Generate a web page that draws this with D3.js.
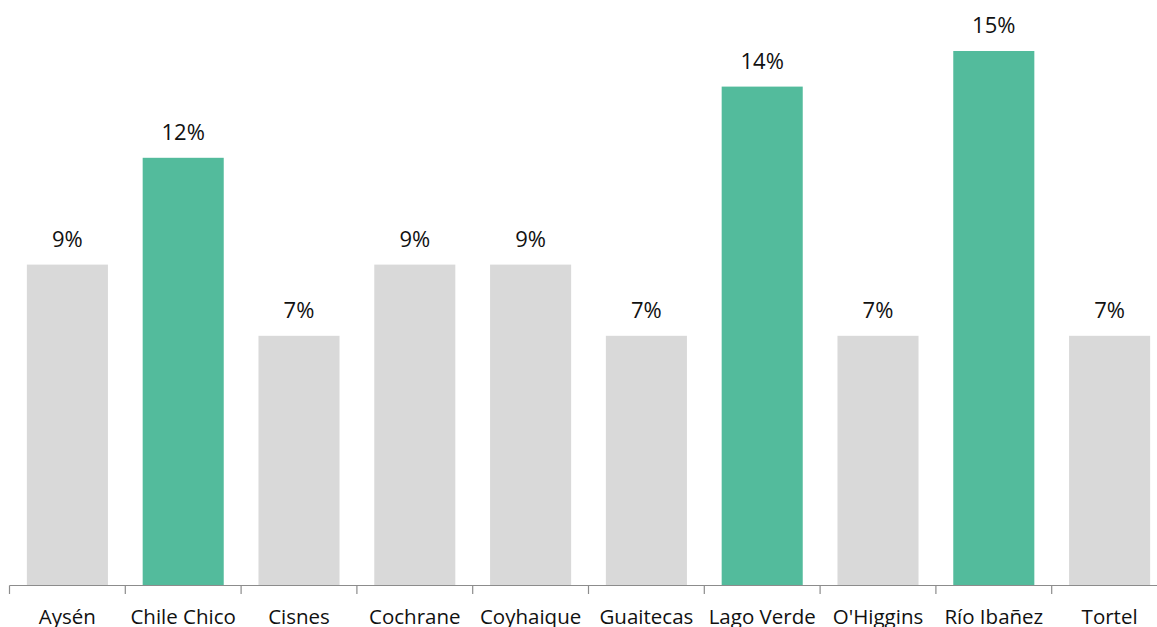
<!DOCTYPE html>
<html>
<head>
<meta charset="utf-8">
<script src="https://cdn.jsdelivr.net/npm/d3@7"></script>
<style>
  html, body { margin: 0; padding: 0; background: #fff; overflow: hidden; }
  svg { display: block; }
</style>
</head>
<body>
<svg id="chart" width="1157" height="627"></svg>
<script>
const categories = ["Aysén", "Chile Chico", "Cisnes", "Cochrane", "Coyhaique", "Guaitecas", "Lago Verde", "O'Higgins", "Río Ibañez", "Tortel"];
const values = [9, 12, 7, 9, 9, 7, 14, 7, 15, 7];
const highlighted = ["Chile Chico", "Lago Verde", "Río Ibañez"];
const valueLabels = ["9%", "12%", "7%", "9%", "9%", "7%", "14%", "7%", "15%", "7%"];

const svg = d3.select("#chart");
const left = 9.5, baseline = 585.5;
const step = 115.8;

const x = d3.scaleBand()
  .domain(categories)
  .range([left, left + step * categories.length])
  .paddingInner(0.3)
  .paddingOuter(0.15);

const y = d3.scaleLinear().domain([0, 15]).range([585, 51]);

const data = categories.map((c, i) => ({ c, v: values[i], label: valueLabels[i] }));

svg.append("g").selectAll("rect").data(data).join("rect")
  .attr("x", d => x(d.c))
  .attr("y", d => y(d.v))
  .attr("width", x.bandwidth())
  .attr("height", d => y(0) - y(d.v))
  .attr("fill", d => highlighted.includes(d.c) ? "#53BB9C" : "#D9D9D9");

// axis line and ticks
const ax = svg.append("g").attr("stroke", "#8C8C8C").attr("stroke-width", 1.2);
ax.append("line")
  .attr("x1", left).attr("x2", left + step * categories.length)
  .attr("y1", baseline).attr("y2", baseline);
const tickPos = categories.map((c) => x(c) - x.paddingOuter() * x.step());
tickPos.push(left + step * categories.length);
ax.selectAll("line.tick").data(tickPos).join("line")
  .attr("class", "tick")
  .attr("x1", d => d).attr("x2", d => d)
  .attr("y1", baseline).attr("y2", baseline + 8.5);

// value labels
svg.append("g").selectAll("text").data(data).join("text")
  .attr("x", d => x(d.c) + x.bandwidth() / 2)
  .attr("y", d => y(d.v) - 18)
  .attr("text-anchor", "middle")
  .attr("font-family", "'Open Sans', sans-serif")
  .attr("font-size", 22)
  .attr("fill", "#111")
  .text(d => d.label);

// category labels (clipped at the bottom edge as in the reference)
svg.append("g").selectAll("text").data(data).join("text")
  .attr("x", d => x(d.c) + x.bandwidth() / 2)
  .attr("y", 624)
  .attr("text-anchor", "middle")
  .attr("font-family", "'Open Sans', sans-serif")
  .attr("font-size", 20.5)
  .attr("fill", "#111")
  .text(d => d.c);
</script>
</body>
</html>
